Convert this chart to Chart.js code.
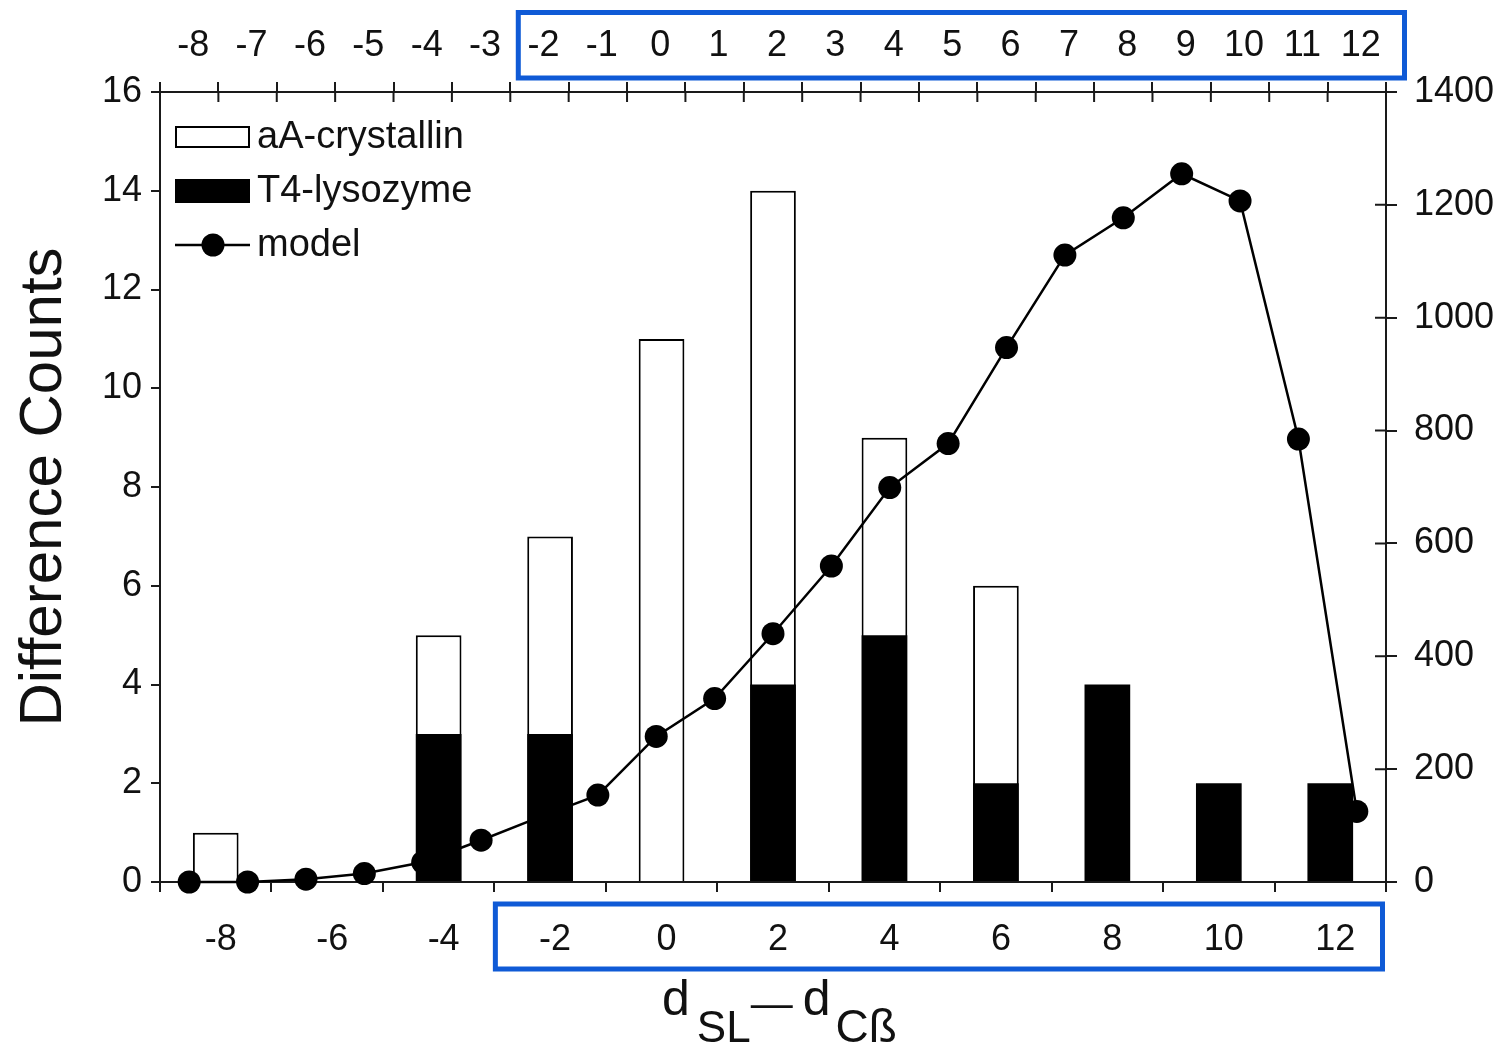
<!DOCTYPE html>
<html>
<head>
<meta charset="utf-8">
<script src="https://cdn.jsdelivr.net/npm/chart.js@4.4.0/dist/chart.umd.min.js"></script>
<style>
  body { margin: 0; background: #fff; }
  #wrap { width: 1500px; height: 1057px; }
</style>
</head>
<body>
<div id="wrap"><canvas id="diffChart"></canvas></div>
<script>
// bottom axis (bars) and top axis (model line)
const bottomLabels = ["-8", "-6", "-4", "-2", "0", "2", "4", "6", "8", "10", "12"];
const topLabels = ["-8", "-7", "-6", "-5", "-4", "-3", "-2", "-1", "0", "1", "2",
  "3", "4", "5", "6", "7", "8", "9", "10", "11", "12"];

// difference counts
const crystallin = [1, 0, 5, 7, 11, 14, 9, 6, 0, 0, 0];
const lysozyme = [0, 0, 3, 3, 0, 4, 5, 2, 4, 2, 2];

// model curve, right axis
const model = [0, 0, 5, 15, 35, 74, 115, 154, 258, 325, 440, 560, 699, 777,
  947, 1111, 1177, 1255, 1207, 785, 125];

const FONT = "'Liberation Sans', Arial, sans-serif";
const INK = "#1a1a1a";
const BOX_BLUE = "#0f5ad6";

Chart.defaults.font.family = FONT;
Chart.defaults.color = "#111";

const extras = {
  id: "extras",
  afterDraw(chart) {
    const ctx = chart.ctx;
    const { left, right, top, bottom } = chart.chartArea;
    const xTop = chart.scales.xTop;
    const x = chart.scales.x;
    const yRight = chart.scales.yRight;
    ctx.save();

    // inner halves of the ticks that cross the top and right axes
    ctx.strokeStyle = INK;
    ctx.lineWidth = 2;
    ctx.beginPath();
    for (let i = 0; i <= topLabels.length; i++) {
      const px = xTop.getPixelForValue(i - 0.5);
      ctx.moveTo(px, top);
      ctx.lineTo(px, top + 10);
    }
    for (let v = 0; v <= 1400; v += 200) {
      const py = yRight.getPixelForValue(v);
      ctx.moveTo(right, py);
      ctx.lineTo(right - 11, py);
    }
    ctx.stroke();

    // legend
    const lx = left + 15;
    ctx.font = "38px " + FONT;
    ctx.textBaseline = "middle";
    const rows = [top + 45, top + 99, top + 153];
    ctx.lineWidth = 2;
    ctx.strokeStyle = "#000";
    ctx.fillStyle = "#fff";
    ctx.fillRect(lx, rows[0] - 11, 75, 22);
    ctx.strokeRect(lx + 1, rows[0] - 10, 73, 20);
    ctx.fillStyle = "#000";
    ctx.fillRect(lx, rows[1] - 12, 75, 24);
    ctx.lineWidth = 2.5;
    ctx.beginPath();
    ctx.moveTo(lx, rows[2]);
    ctx.lineTo(lx + 75, rows[2]);
    ctx.stroke();
    ctx.beginPath();
    ctx.arc(lx + 38, rows[2], 11.5, 0, Math.PI * 2);
    ctx.fill();
    ctx.fillStyle = "#111";
    const names = chart.data.datasets.map(d => d.label);
    ctx.fillText(names[0], lx + 82, rows[0] + 1);
    ctx.fillText(names[2], lx + 82, rows[1] + 1);
    ctx.fillText(names[1], lx + 82, rows[2] + 1);

    // left axis title
    ctx.save();
    ctx.translate(44, (top + bottom) / 2);
    ctx.rotate(-Math.PI / 2);
    ctx.textAlign = "center";
    ctx.font = "60px " + FONT;
    ctx.fillText("Difference Counts", 0, 0);
    ctx.restore();

    // bottom axis title  d_SL – d_Cß
    const parts = [
      { t: "d", size: 50, dy: 0, gap: 7 },
      { t: "SL", size: 44, dy: 27, gap: 0 },
      { t: "\u2014", size: 42, dy: 2, gap: 10 },
      { t: "d", size: 50, dy: 0, gap: 5 },
      { t: "C\u00df", size: 46, dy: 27, gap: 0 },
    ];
    ctx.textBaseline = "alphabetic";
    ctx.textAlign = "left";
    let cx = (left + right) / 2 - 111;
    const base = bottom + 133;
    parts.forEach(p => {
      ctx.font = p.size + "px " + FONT;
      ctx.fillText(p.t, cx, base + p.dy);
      cx += ctx.measureText(p.t).width + p.gap;
    });

    // blue highlight boxes round the -2..12 labels
    ctx.strokeStyle = BOX_BLUE;
    ctx.lineWidth = 5;
    const t1 = xTop.getPixelForValue(5.5) + 8;
    ctx.strokeRect(t1, 12.5, right + 18.5 - t1, top - 14 - 12.5);
    const b1 = x.getPixelForValue(2.5) + 1;
    ctx.strokeRect(b1, bottom + 22, right - 3.5 - b1, 65);
    ctx.restore();
  },
};

const axisGrid = (len) => ({
  drawOnChartArea: false,
  drawTicks: true,
  tickLength: len,
  color: INK,
  lineWidth: 2,
});
const axisBorder = { display: true, color: INK, width: 2 };
const tickFont = { size: 36, family: FONT };

new Chart(document.getElementById("diffChart"), {
  data: {
    labels: bottomLabels,
    datasets: [
      {
        type: "bar",
        label: "aA-crystallin",
        data: crystallin,
        xAxisID: "x",
        yAxisID: "y",
        backgroundColor: "#fff",
        borderColor: "#000",
        borderWidth: 2,
        grouped: false,
        barPercentage: 0.41,
        categoryPercentage: 1,
        order: 3,
      },
      {
        type: "line",
        label: "model",
        data: model,
        xAxisID: "xTop",
        yAxisID: "yRight",
        borderColor: "#000",
        borderWidth: 2.5,
        pointRadius: 11.5,
        pointBackgroundColor: "#000",
        pointBorderWidth: 0,
        tension: 0,
        clip: false,
        order: 2,
      },
      {
        type: "bar",
        label: "T4-lysozyme",
        data: lysozyme,
        xAxisID: "x",
        yAxisID: "y",
        backgroundColor: "#000",
        borderWidth: 0,
        grouped: false,
        barPercentage: 0.41,
        categoryPercentage: 1,
        order: 1,
      },
    ],
  },
  options: {
    responsive: true,
    maintainAspectRatio: false,
    animation: false,
    layout: { padding: 0 },
    plugins: {
      legend: { display: false },
      title: { display: false },
      tooltip: { enabled: false },
    },
    scales: {
      x: {
        type: "category",
        position: "bottom",
        labels: bottomLabels,
        offset: true,
        grid: { ...axisGrid(10), offset: true },
        border: axisBorder,
        ticks: { font: tickFont, padding: 26, labelOffset: 5, maxRotation: 0, autoSkip: false },
        afterFit(s) { s.height = 175; },
      },
      xTop: {
        type: "category",
        position: "top",
        labels: topLabels,
        offset: true,
        grid: { ...axisGrid(10), offset: true },
        border: axisBorder,
        ticks: { font: tickFont, padding: 14, labelOffset: 4, maxRotation: 0, autoSkip: false },
        afterFit(s) { s.height = 92; },
      },
      y: {
        position: "left",
        min: 0,
        max: 16,
        grid: axisGrid(9),
        border: axisBorder,
        ticks: { font: tickFont, stepSize: 2, padding: 9 },
        afterFit(s) { s.width = 160; },
      },
      yRight: {
        position: "right",
        min: 0,
        max: 1400,
        grid: axisGrid(11),
        border: axisBorder,
        ticks: {
          font: tickFont,
          stepSize: 200,
          padding: 17,
          callback: (v) => String(v),
        },
        afterFit(s) { s.width = 114; },
      },
    },
  },
  plugins: [extras],
});
</script>
</body>
</html>
